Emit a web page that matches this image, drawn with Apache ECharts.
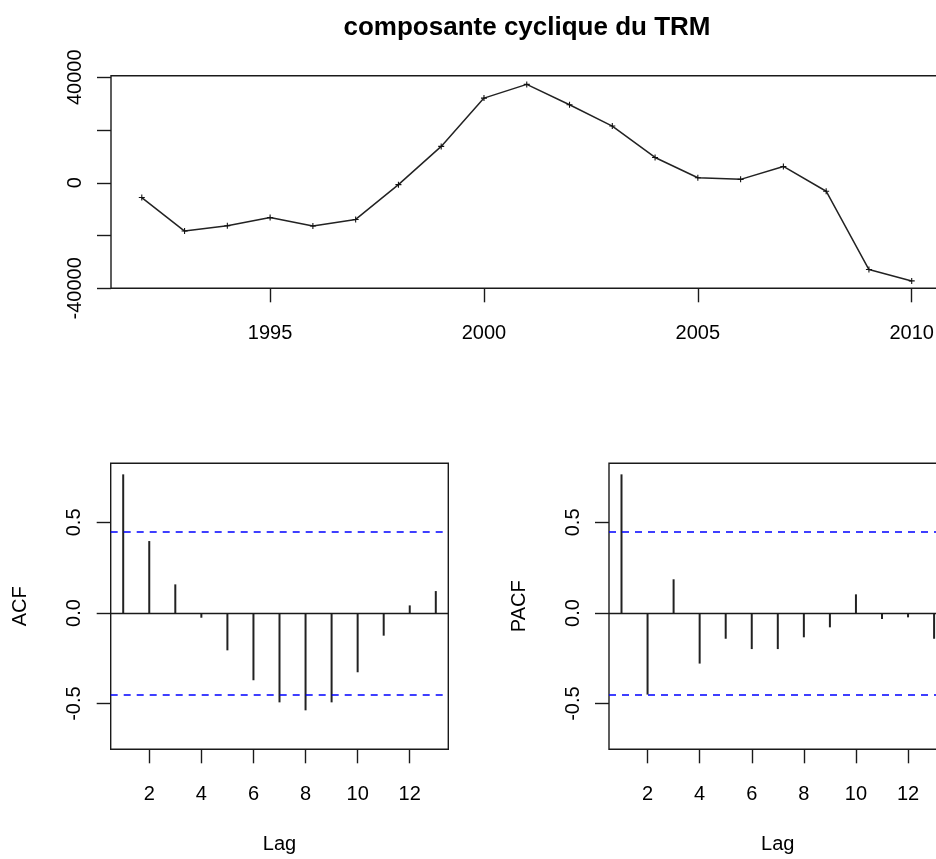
<!DOCTYPE html>
<html>
<head>
<meta charset="utf-8">
<script src="https://cdn.jsdelivr.net/npm/echarts@6/dist/echarts.min.js"></script>
<style>
  html, body { margin: 0; padding: 0; background: #fff; }
  #chart { width: 936px; height: 859px; }
</style>
</head>
<body>
<div id="chart"></div>
<script>
// Cyclical component of the TRM series, yearly
const years = [1992, 1993, 1994, 1995, 1996, 1997, 1998, 1999, 2000, 2001,
               2002, 2003, 2004, 2005, 2006, 2007, 2008, 2009, 2010];
const cyclical = [-5600, -18300, -16300, -13200, -16400, -13900, -700, 13800, 32100, 37300,
                  29600, 21500, 9600, 1900, 1300, 6200, -3200, -32900, -37200];

// Sample autocorrelations
const lags = [1, 2, 3, 4, 5, 6, 7, 8, 9, 10, 11, 12, 13];
const acfValues = [0.765, 0.397, 0.158, -0.026, -0.206, -0.371, -0.493, -0.537, -0.493, -0.327, -0.125, 0.042, 0.121];
const pacfValues = [0.765, -0.450, 0.186, -0.279, -0.142, -0.199, -0.199, -0.134, -0.079, 0.103, -0.033, -0.024, -0.142];
const confLimit = 0.4497; // 1.96 / sqrt(19)

// Tick positions and labels
const yearTicks = [1995, 2000, 2005, 2010];
const levelTicks = [-40000, -20000, 0, 20000, 40000];
const levelLabels = [-40000, 0, 40000];
const lagTicks = [2, 4, 6, 8, 10, 12];
const corrTicks = [-0.5, 0, 0.5];

const FONT = "'Liberation Sans', Arial, sans-serif";
const INK = '#1a1a1a';
const PLUS = 'path://M-0.18,-1H0.18V-0.18H1V0.18H0.18V1H-0.18V0.18H-1V-0.18H-0.18Z';

function xAxisCfg(gridIndex, min, max, ticks, name) {
  return {
    type: 'value', gridIndex, min, max, position: 'bottom',
    name: name || '', nameLocation: 'middle', nameGap: 85,
    nameTextStyle: { fontSize: 20, color: '#000', fontFamily: FONT },
    axisLine: { show: false, onZero: false },
    splitLine: { show: false },
    axisTick: { show: true, inside: false, length: 14, customValues: ticks,
                lineStyle: { color: INK, width: 1.4 } },
    axisLabel: { customValues: ticks, margin: 35, fontSize: 20, color: '#000', fontFamily: FONT,
                 formatter: v => String(v) }
  };
}

function yAxisCfg(gridIndex, min, max, ticks, labels, name, fmt) {
  return {
    type: 'value', gridIndex, min, max, position: 'left',
    name: name || '', nameLocation: 'middle', nameGap: 80,
    nameTextStyle: { fontSize: 20, color: '#000', fontFamily: FONT },
    axisLine: { show: false, onZero: false },
    splitLine: { show: false },
    axisTick: { show: true, inside: false, length: 14, customValues: ticks,
                lineStyle: { color: INK, width: 1.4 } },
    axisLabel: { customValues: labels, rotate: 90, margin: 26, fontSize: 20, color: '#000',
                 fontFamily: FONT, formatter: fmt }
  };
}

const boxStyle = { show: true, borderColor: INK, borderWidth: 1.4, backgroundColor: 'transparent',
                   outerBoundsMode: 'none', containLabel: false };

const confLines = {
  silent: true, symbol: 'none',
  label: { show: false },
  data: [
    { yAxis: confLimit, lineStyle: { color: '#0000ff', type: [7, 6], width: 1.7 } },
    { yAxis: -confLimit, lineStyle: { color: '#0000ff', type: [7, 6], width: 1.7 } },
    { yAxis: 0, lineStyle: { color: INK, type: 'solid', width: 1.4 } }
  ]
};

function spikes(name, xi, yi, values) {
  return {
    name, type: 'bar', xAxisIndex: xi, yAxisIndex: yi,
    data: lags.map((l, i) => [l, values[i]]),
    barWidth: 2,
    itemStyle: { color: '#222' },
    markLine: confLines,
    animation: false
  };
}

const chart = echarts.init(document.getElementById('chart'), null, { renderer: 'canvas' });
chart.setOption({
  backgroundColor: '#fff',
  animation: false,
  title: {
    text: 'composante cyclique du TRM',
    left: 522, top: 10, textAlign: 'center',
    textStyle: { fontSize: 26, fontWeight: 'bold', color: '#000', fontFamily: FONT }
  },
  grid: [
    Object.assign({ left: 111, top: 75.7, width: 831.5, height: 212.6 }, boxStyle),
    Object.assign({ left: 110.7, top: 463.3, width: 337.6, height: 286 }, boxStyle),
    Object.assign({ left: 609, top: 463.3, width: 337.6, height: 286 }, boxStyle)
  ],
  xAxis: [
    xAxisCfg(0, 1991.28, 2010.72, yearTicks),
    xAxisCfg(1, 0.52, 13.48, lagTicks, 'Lag'),
    xAxisCfg(2, 0.52, 13.48, lagTicks, 'Lag')
  ],
  yAxis: [
    yAxisCfg(0, -40000, 40600, levelTicks, levelLabels, '', v => String(v)),
    yAxisCfg(1, -0.752, 0.826, corrTicks, corrTicks, 'ACF', v => v.toFixed(1)),
    yAxisCfg(2, -0.752, 0.826, corrTicks, corrTicks, 'PACF', v => v.toFixed(1))
  ],
  series: [
    {
      name: 'cyclique', type: 'line', xAxisIndex: 0, yAxisIndex: 0,
      data: years.map((y, i) => [y, cyclical[i]]),
      symbol: PLUS, symbolSize: 6, showSymbol: true,
      lineStyle: { color: '#222', width: 1.5 },
      itemStyle: { color: '#111' },
      animation: false
    },
    spikes('ACF', 1, 1, acfValues),
    spikes('PACF', 2, 2, pacfValues)
  ]
});
</script>
</body>
</html>
